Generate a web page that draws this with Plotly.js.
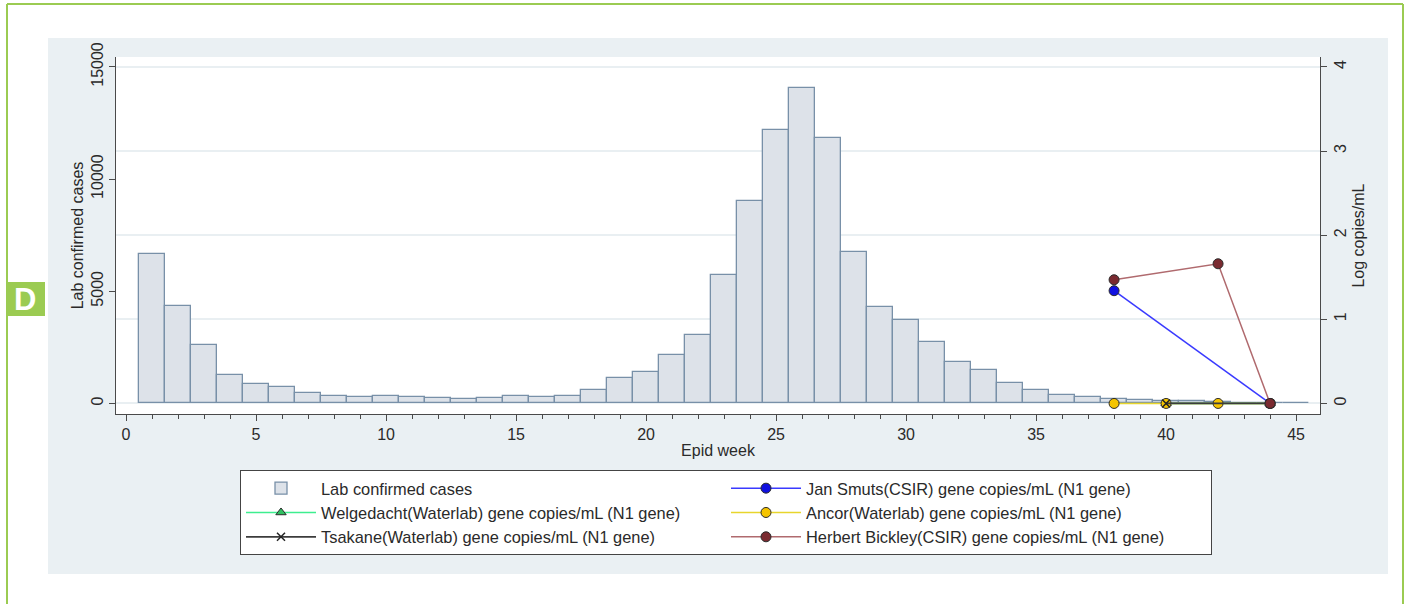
<!DOCTYPE html>
<html>
<head>
<meta charset="utf-8">
<script src="https://cdn.plot.ly/plotly-3.0.1.min.js"></script>
<style>
  html, body { margin: 0; padding: 0; background: #ffffff; }
  #chart { width: 1408px; height: 604px; }
</style>
</head>
<body>
<div id="chart"></div>
<script>
// Weekly laboratory-confirmed cases by epidemiological week
const weeks = [1, 2, 3, 4, 5, 6, 7, 8, 9, 10, 11, 12, 13, 14, 15, 16, 17, 18, 19, 20,
  21, 22, 23, 24, 25, 26, 27, 28, 29, 30, 31, 32, 33, 34, 35, 36, 37, 38, 39, 40,
  41, 42, 43, 44, 45];
const labCases = [6660, 4350, 2600, 1280, 860, 730, 460, 340, 300, 340, 300, 250, 190, 250, 340,
  300, 330, 580, 1140, 1410, 2150, 3060, 5740, 9040, 12170, 14070, 11830, 6750, 4290, 3730,
  2730, 1860, 1510, 920, 590, 360, 300, 210, 150, 120, 90, 60, 40, 10, 5];

// Wastewater SARS-CoV-2 N1 gene, log copies/mL, per site
const janSmutsWeeks = [38, 44];
const janSmutsLog = [1.34, 0];
const welgedachtWeeks = [40, 44];
const welgedachtLog = [0, 0];
const ancorWeeks = [38, 40, 42, 44];
const ancorLog = [0, 0, 0, 0];
const tsakaneWeeks = [40, 44];
const tsakaneLog = [0, 0];
const bickleyWeeks = [38, 42, 44];
const bickleyLog = [1.47, 1.66, 0];

// Axis ticks
const weekTicks = [0, 5, 10, 15, 20, 25, 30, 35, 40, 45];
const caseTicks = [0, 5000, 10000, 15000];
const caseTickText = ['0', '5000', '10000', '15000'];
const logTicks = [0, 1, 2, 3, 4];

// Plot-area geometry in pixels, used to place the frame decorations
const W = 1408, H = 604;
const M = { l: 116, r: 88, t: 57, b: 190 };
const PW = W - M.l - M.r, PH = H - M.t - M.b;
const px = x => (x - M.l) / PW;
const py = y => (H - M.b - y) / PH;

const FONT = 'Arial, "Liberation Sans", sans-serif';
const TXT = '#2a2a2a';
const AXIS = '#4a4a4a';
const GREEN = '#9bcb52';

const markerEdge = { color: '#2b2b2b', width: 1 };

const traces = [
  {
    type: 'bar', name: 'Lab confirmed cases', x: weeks, y: labCases, width: 1,
    marker: { color: '#dde2e9', line: { color: '#7890a8', width: 1.3 } },
    yaxis: 'y'
  },
  {
    type: 'scatter', mode: 'lines+markers', name: 'Jan Smuts(CSIR) gene copies/mL (N1 gene)',
    x: janSmutsWeeks, y: janSmutsLog, yaxis: 'y2',
    line: { color: '#3a3aff', width: 1.5 },
    marker: { color: '#1010e0', size: 10, line: markerEdge }
  },
  {
    type: 'scatter', mode: 'lines+markers', name: 'Welgedacht(Waterlab) gene copies/mL (N1 gene)',
    x: welgedachtWeeks, y: welgedachtLog, yaxis: 'y2',
    line: { color: '#3dee8f', width: 1.5 },
    marker: { symbol: 'triangle-up', color: '#30c060', size: 9, line: markerEdge }
  },
  {
    type: 'scatter', mode: 'lines+markers', name: 'Ancor(Waterlab) gene copies/mL (N1 gene)',
    x: ancorWeeks, y: ancorLog, yaxis: 'y2',
    line: { color: '#e8d52c', width: 1.5 },
    marker: { color: '#f5c400', size: 10, line: markerEdge }
  },
  {
    type: 'scatter', mode: 'lines+markers', name: 'Tsakane(Waterlab) gene copies/mL (N1 gene)',
    x: tsakaneWeeks, y: tsakaneLog, yaxis: 'y2',
    line: { color: '#3c3c3c', width: 1.8 },
    marker: { symbol: 'x-thin-open', color: '#222222', size: 8, line: { color: '#222222', width: 1.5 } }
  },
  {
    type: 'scatter', mode: 'lines+markers', name: 'Herbert Bickley(CSIR) gene copies/mL (N1 gene)',
    x: bickleyWeeks, y: bickleyLog, yaxis: 'y2',
    line: { color: '#b06a6e', width: 1.5 },
    marker: { color: '#7a2a30', size: 10, line: markerEdge }
  }
];

// Left and right axes share the same pixel span: 15000 cases <-> 4 log units
const caseMin = -470, caseMax = 15440;
const ratio = 15000 / 4;

const layout = {
  width: W, height: H,
  margin: M,
  paper_bgcolor: '#ffffff',
  plot_bgcolor: 'rgba(0,0,0,0)',
  font: { family: FONT, size: 16, color: TXT },
  showlegend: true,
  bargap: 0,
  xaxis: {
    range: [-0.385, 45.92],
    tickmode: 'array', tickvals: weekTicks,
    ticks: 'outside', ticklen: 6, tickwidth: 1, tickcolor: AXIS,
    minor: { dtick: 1, tick0: 0, ticks: 'outside', ticklen: 4, tickwidth: 1, tickcolor: AXIS },
    showline: true, linecolor: AXIS, linewidth: 1.2,
    showgrid: false, zeroline: false,
    tickfont: { size: 16, color: TXT },
    title: { text: 'Epid week', font: { size: 16, color: TXT }, standoff: 2 }
  },
  yaxis: {
    range: [caseMin, caseMax],
    tickmode: 'array', tickvals: caseTicks, ticktext: caseTickText,
    tickangle: -90,
    ticks: 'outside', ticklen: 6, tickwidth: 1, tickcolor: AXIS,
    showline: true, linecolor: AXIS, linewidth: 1.2,
    showgrid: false, zeroline: false,
    tickfont: { size: 16, color: TXT },
    title: { text: 'Lab confirmed cases', font: { size: 16, color: TXT }, standoff: 0 }
  },
  yaxis2: {
    overlaying: 'y', side: 'right',
    range: [caseMin / ratio, caseMax / ratio],
    tickmode: 'array', tickvals: logTicks,
    tickangle: -90,
    ticks: 'outside', ticklen: 6, tickwidth: 1, tickcolor: AXIS,
    showline: true, linecolor: AXIS, linewidth: 1.2,
    showgrid: true, gridcolor: '#e9eff2', gridwidth: 1.5,
    zeroline: false,
    tickfont: { size: 16, color: TXT },
    title: { text: 'Log copies/mL', font: { size: 16, color: TXT }, standoff: 4 }
  },
  legend: {
    orientation: 'h',
    xref: 'container', yref: 'container',
    x: 240 / W, y: 1 - 470 / H,
    xanchor: 'left', yanchor: 'top',
    bgcolor: '#ffffff', bordercolor: '#444444', borderwidth: 1,
    font: { family: FONT, size: 16.4, color: TXT },
    entrywidth: 400, entrywidthmode: 'pixels',
    itemwidth: 70,
    traceorder: 'normal'
  },
  shapes: [
    // light panel behind the figure
    { type: 'rect', xref: 'paper', yref: 'paper', layer: 'below',
      x0: px(48), x1: px(1388), y0: py(574), y1: py(38),
      fillcolor: '#eaf0f3', line: { width: 0 } },
    // white plotting region
    { type: 'rect', xref: 'paper', yref: 'paper', layer: 'below',
      x0: 0, x1: 1, y0: 0, y1: 1,
      fillcolor: '#ffffff', line: { width: 0 } },
    // green frame
    { type: 'line', xref: 'paper', yref: 'paper', layer: 'above',
      x0: px(7), x1: px(7), y0: py(4), y1: py(610), line: { color: GREEN, width: 2 } },
    { type: 'line', xref: 'paper', yref: 'paper', layer: 'above',
      x0: px(7), x1: px(1403), y0: py(4), y1: py(4), line: { color: GREEN, width: 2 } },
    { type: 'line', xref: 'paper', yref: 'paper', layer: 'above',
      x0: px(1403), x1: px(1403), y0: py(4), y1: py(610), line: { color: GREEN, width: 2 } },
    // panel letter badge
    { type: 'rect', xref: 'paper', yref: 'paper', layer: 'above',
      x0: px(6), x1: px(45), y0: py(316), y1: py(282),
      fillcolor: GREEN, line: { width: 0 } }
  ],
  annotations: [
    { text: '<b>D</b>', xref: 'paper', yref: 'paper', x: px(25.5), y: py(299),
      xanchor: 'center', yanchor: 'middle', showarrow: false,
      font: { family: FONT, size: 31, color: '#ffffff' } }
  ]
};

Plotly.newPlot('chart', traces, layout, { displayModeBar: false, responsive: false });
</script>
</body>
</html>
